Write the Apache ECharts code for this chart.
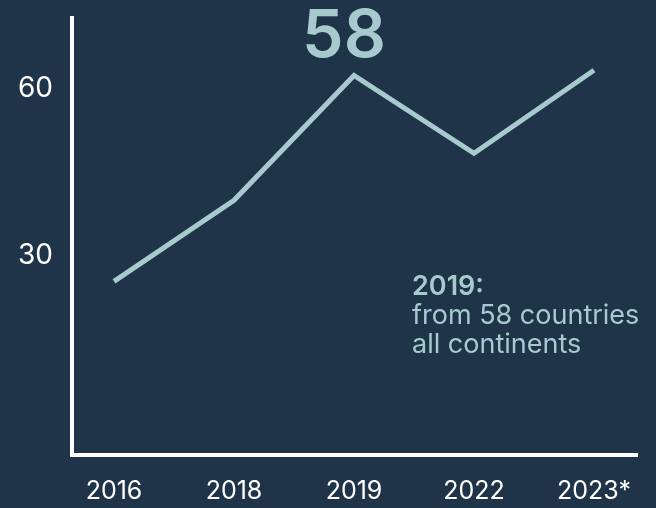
<!DOCTYPE html>
<html>
<head>
<meta charset="utf-8">
<style>
  html, body { margin: 0; padding: 0; background: #1f3448; }
  #chart { width: 656px; height: 508px; }
</style>
<script src="https://cdn.jsdelivr.net/npm/echarts@6/dist/echarts.min.js"></script>
</head>
<body>
<div id="chart"></div>
<script>
// Years on the horizontal axis
const categories = ['2016', '2018', '2019', '2022', '2023*'];
// Number of participating countries per year
const values = [26.5, 38.9, 58, 46.1, 58.8];
// Reference labels on the vertical axis
const yTickLabels = [30, 60];
// The year whose value is called out above the line
const highlightIndex = 2;
// Side note
const noteTitle = '2019:';
const noteLines = ['from 58 countries', 'all continents'];

const TEAL = '#a6cacd';
const WHITE = '#ffffff';
const FONT = 'Inter';

const lineData = values.map((v, i) => {
  const item = { value: [i, v] };
  if (i === highlightIndex) {
    item.symbol = 'circle';
    item.symbolSize = 4;
    item.label = {
      show: true,
      position: 'top',
      distance: 3,
      offset: [-10, 0],
      formatter: String(v),
      color: TEAL,
      fontFamily: FONT,
      fontSize: 66,
      fontWeight: 600
    };
  }
  return item;
});

const chart = echarts.init(document.getElementById('chart'), null, { renderer: 'canvas' });

chart.setOption({
  backgroundColor: '#1f3448',
  animation: false,
  title: {
    left: 412,
    top: 272,
    padding: 0,
    text: '{b|' + noteTitle + '}\n' + noteLines.map(t => '{n|' + t + '}').join('\n'),
    textStyle: {
      rich: {
        b: { color: TEAL, fontFamily: FONT, fontSize: 27, fontWeight: 600, lineHeight: 29 },
        n: { color: TEAL, fontFamily: FONT, fontSize: 27, fontWeight: 400, lineHeight: 29 }
      }
    }
  },
  grid: { left: 72, right: 20, top: 18, bottom: 53.5, containLabel: false },
  xAxis: {
    type: 'value',
    min: -0.35,
    max: 4.35,
    splitLine: { show: false },
    axisTick: { show: false },
    axisLine: { show: true, onZero: false, lineStyle: { color: WHITE, width: 4, cap: 'square' } },
    axisLabel: {
      customValues: categories.map((c, i) => i),
      formatter: v => categories[Math.round(v)],
      color: WHITE,
      fontFamily: FONT,
      fontSize: 25,
      margin: 24
    }
  },
  yAxis: [
    {
      // axis that carries the reference labels and the vertical line
      type: 'value',
      min: -5.66,
      max: 72.75,
      splitLine: { show: false },
      axisTick: { show: false },
      axisLine: { show: true, onZero: false, lineStyle: { color: WHITE, width: 4, cap: 'square' } },
      axisLabel: {
        customValues: yTickLabels,
        color: WHITE,
        fontFamily: FONT,
        fontSize: 28,
        margin: 19
      }
    },
    {
      // scale used by the line itself
      type: 'value',
      min: 0,
      max: 66.8,
      show: false
    }
  ],
  series: [{
    type: 'line',
    xAxisIndex: 0,
    yAxisIndex: 1,
    data: lineData,
    symbol: 'none',
    lineStyle: { color: TEAL, width: 5, join: 'miter' },
    itemStyle: { color: TEAL }
  }]
});
</script>
</body>
</html>
